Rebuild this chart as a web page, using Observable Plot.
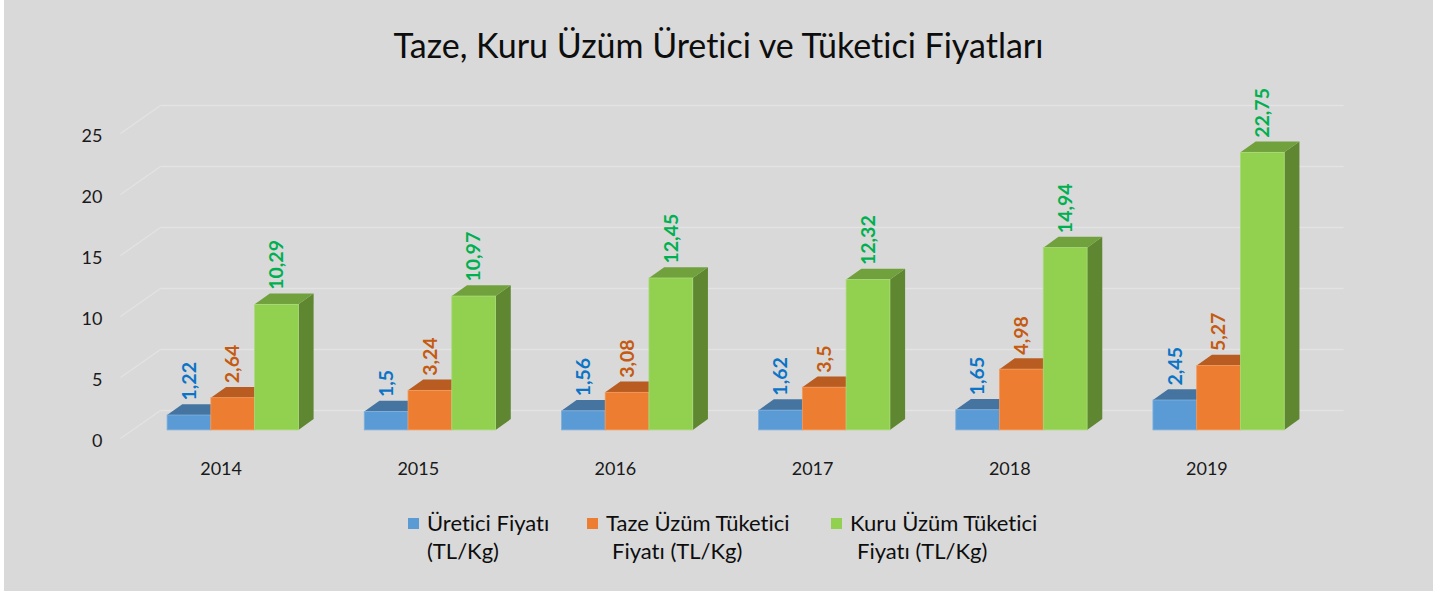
<!DOCTYPE html>
<html><head><meta charset="utf-8">
<script src="https://cdn.jsdelivr.net/npm/d3@7"></script>
<script src="https://cdn.jsdelivr.net/npm/@observablehq/plot@0.6"></script>
<style>
body{margin:0;background:#fff;font-family:Lato,"Open Sans",sans-serif;font-variant-ligatures:none;}
svg text{font-variant-ligatures:none}
#panel{position:absolute;left:4px;top:0;width:1429px;height:591px;background:#d9d9d9;overflow:hidden}
#title{height:90px;line-height:90px;text-align:center;font-size:34px;color:#0d0d0d}
#chart svg{display:block}
#legend{position:absolute;top:509px;left:0;width:100%;height:70px}
.item{position:absolute;top:0;font-size:22px;color:#0d0d0d;line-height:28px}
.sw{position:absolute;left:0;top:9px;width:11px;height:11px}
.txt{position:absolute;left:19px;top:0;white-space:nowrap}
</style></head><body>
<div id="panel"><div id="title"></div><div id="chart"></div><div id="legend"></div></div>
<script>
// ---- data ----
const titleText = "Taze, Kuru Üzüm Üretici ve Tüketici Fiyatları";
const years = ["2014", "2015", "2016", "2017", "2018", "2019"];
const ureticiFiyati = [1.22, 1.5, 1.56, 1.62, 1.65, 2.45];
const tazeUzumTuketici = [2.64, 3.24, 3.08, 3.5, 4.98, 5.27];
const kuruUzumTuketici = [10.29, 10.97, 12.45, 12.32, 14.94, 22.75];
const seriesLines = [
  ["Üretici Fiyatı", "(TL/Kg)"],
  ["Taze Üzüm Tüketici", "Fiyatı (TL/Kg)"],
  ["Kuru Üzüm Tüketici", "Fiyatı (TL/Kg)"]
];
const yTicks = [0, 5, 10, 15, 20, 25];

// ---- styles ----
const frontColors = ["#5b9bd5", "#ed7d31", "#92d050"];
const topColors = ["#44749f", "#b85c21", "#71a13d"];
const sideColors = ["#3d6890", "#a9541e", "#5f8731"];
const edgeColors = ["#7fb0de", "#f29a5c", "#a9da78"];
const labelColors = ["#0b74c7", "#c55a11", "#00b050"];
const gridColor = "#e3e3e3";

document.getElementById("title").textContent = titleText;

const W = 1429, H = 400, mL = 116, mR = 130, mT = 43, mB = 52;
const nCat = years.length, yMax = 25;
const kx = (W - mL - mR) / nCat;     // px per category
const ky = (H - mT - mB) / yMax;     // px per unit
// 3D projection (pixels)
const wallPx = [40, 28];         // back wall depth
const barFrontPx = [11.6, -8.1]; // bar front plane offset
const barDepthPx = [15.2, 10.8]; // bar depth
const wx = wallPx[0] / kx, wy = wallPx[1] / ky;
const bx = barDepthPx[0] / kx, by = barDepthPx[1] / ky;
const gap = 0.18, bw = 0.222;

const seriesValues = [ureticiFiyati, tazeUzumTuketici, kuruUzumTuketici];
const bars = seriesValues.flatMap((vals, s) => vals.map((v, i) => ({
  s, i, v, id: s * 100 + i,
  x0: i + gap + s * bw, x1: i + gap + (s + 1) * bw,
  label: String(v).replace(".", ",")
})));

const marks = [
  // back wall gridlines
  Plot.link(yTicks, {x1: wx, x2: nCat + wx, y1: t => t + wy, y2: t => t + wy, stroke: gridColor, strokeWidth: 1.3}),
  Plot.link(yTicks, {x1: 0, y1: t => t, x2: wx, y2: t => t + wy, stroke: gridColor, strokeWidth: 1.3})
];
const off = {dx: barFrontPx[0], dy: barFrontPx[1]};
for (let s = 0; s < 3; s++) {
  const b = bars.filter(d => d.s === s);
  const sideRows = b.flatMap(d => [
    {id: d.id, x: d.x1, y1: 0, y2: d.v},
    {id: d.id, x: d.x1 + bx, y1: by, y2: d.v + by}
  ]);
  const topRows = b.flatMap(d => [
    {id: d.id, y: d.v, x1: d.x0, x2: d.x1},
    {id: d.id, y: d.v + by, x1: d.x0 + bx, x2: d.x1 + bx}
  ]);
  marks.push(
    Plot.areaY(sideRows, {x: "x", y1: "y1", y2: "y2", z: "id", fill: sideColors[s], ...off}),
    Plot.areaX(topRows, {y: "y", x1: "x1", x2: "x2", z: "id", fill: topColors[s], ...off}),
    Plot.rect(b, {x1: "x0", x2: "x1", y1: 0, y2: "v", fill: frontColors[s], stroke: edgeColors[s], strokeWidth: 0.8, ...off})
  );
}
marks.push(
  Plot.text(bars, {
    x: d => (d.x0 + d.x1) / 2, y: "v", text: "label", rotate: -90, textAnchor: "start",
    fill: d => labelColors[d.s], fontWeight: "bold", fontSize: 19.5, fontFamily: "Lato",
    dx: barFrontPx[0], dy: barFrontPx[1] - 15
  }),
  Plot.text(yTicks, {x: 0, y: t => t, text: t => String(t), textAnchor: "end", dx: -18, dy: 2.5, fontSize: 18, fontFamily: "Lato", fill: "#1a1a1a"}),
  Plot.text(years, {x: (d, i) => i + 0.5, y: 0, text: d => d, dx: 2, dy: 31, fontSize: 18, fontFamily: "Lato", fill: "#1a1a1a"})
);

const chart = Plot.plot({
  width: W, height: H,
  marginLeft: mL, marginRight: mR, marginTop: mT, marginBottom: mB,
  x: {domain: [0, nCat], axis: null},
  y: {domain: [0, yMax], axis: null},
  color: {type: "identity"},
  style: {background: "transparent", overflow: "visible"},
  marks
});
document.getElementById("chart").appendChild(chart);

// legend
const legendLeft = [404, 583, 827];
const legendIndent = [0, 6, 7];
const legend = document.getElementById("legend");
seriesLines.forEach((lines, s) => {
  const item = document.createElement("div");
  item.className = "item";
  item.style.left = legendLeft[s] + "px";
  const sw = document.createElement("div");
  sw.className = "sw"; sw.style.background = frontColors[s];
  item.appendChild(sw);
  const txt = document.createElement("div");
  txt.className = "txt";
  lines.forEach((ln, j) => {
    const l = document.createElement("div");
    l.textContent = ln;
    if (j > 0) l.style.paddingLeft = legendIndent[s] + "px";
    txt.appendChild(l);
  });
  item.appendChild(txt);
  legend.appendChild(item);
});
</script>
</body></html>
